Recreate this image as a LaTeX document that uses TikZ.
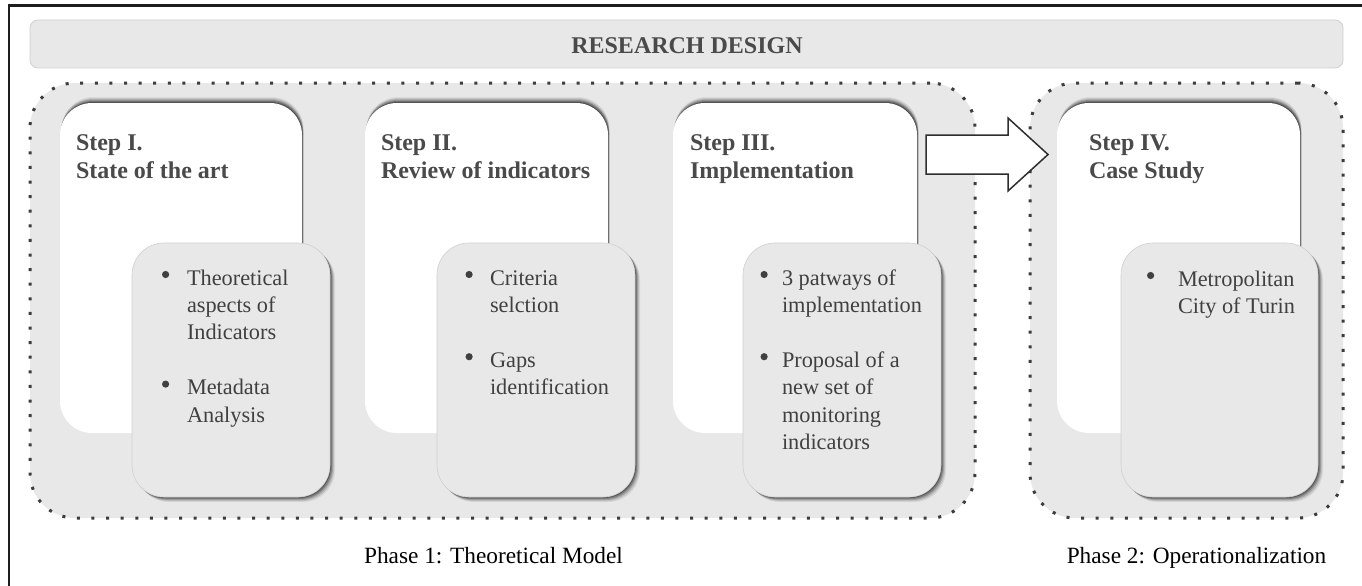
\documentclass[tikz,border=0pt]{standalone}
\usepackage{fontspec}
\setmainfont{Liberation Serif}
\usetikzlibrary{shadows}
\definecolor{regfill}{HTML}{E8E8E8}
\definecolor{boxfill}{HTML}{E8E8E8}
\definecolor{boxline}{HTML}{D0D0D0}
\definecolor{dotcol}{HTML}{3C3C3C}
\definecolor{headcol}{HTML}{4A4A4A}
\definecolor{bulcol}{HTML}{404040}
\definecolor{framecol}{HTML}{1E1E1E}
\definecolor{arrowcol}{HTML}{2E2E2E}
\newcommand\hdfont{\fontsize{24}{28}\selectfont\bfseries}
\newcommand\blfont{\fontsize{22.3}{27.4}\selectfont}
\newcommand\bdot{\tikz[baseline=0pt]{\fill[bulcol] (3.6pt,10.5pt) circle[radius=3.6pt];}}
\newcommand\bitem[2]{\par\noindent\hangindent=#1\hangafter=1\makebox[#1][l]{\bdot}#2}
\newcommand\itemgap{\par\vspace{27.4pt}}
\begin{document}
\begin{tikzpicture}[x=1pt,y=-1pt,
  region/.style={fill=regfill, draw=dotcol, line width=3pt, dash pattern=on 3pt off 11.6pt,
    rounded corners=45pt, inner sep=0pt, outer sep=0pt},
  bar/.style={fill=boxfill, draw=boxline, line width=0.8pt, rounded corners=8pt, inner sep=0pt, outer sep=0pt},
  stepbox/.style={fill=white, rounded corners=32pt, inner sep=0pt, outer sep=0pt,
    minimum height=330pt,
    general shadow={shadow xshift=1.5pt, shadow yshift=6pt, fill=black, opacity=0.06},
    general shadow={shadow xshift=1.5pt, shadow yshift=5pt, fill=black, opacity=0.09},
    general shadow={shadow xshift=1pt, shadow yshift=4pt, fill=black, opacity=0.12},
    general shadow={shadow xshift=1pt, shadow yshift=3pt, fill=black, opacity=0.16},
    general shadow={shadow xshift=1pt, shadow yshift=2pt, fill=black, opacity=0.22},
    general shadow={shadow xshift=0.5pt, shadow yshift=1pt, fill=black, opacity=0.28}},
  bulbox/.style={fill=boxfill, draw=boxline, line width=0.6pt, rounded corners=32pt,
    inner sep=0pt, outer sep=0pt, minimum height=254pt,
    general shadow={shadow xshift=5pt, shadow yshift=-5pt, fill=black, opacity=0.07},
    general shadow={shadow xshift=4pt, shadow yshift=-4pt, fill=black, opacity=0.11},
    general shadow={shadow xshift=3pt, shadow yshift=-3pt, fill=black, opacity=0.16},
    general shadow={shadow xshift=2pt, shadow yshift=-2pt, fill=black, opacity=0.22},
    general shadow={shadow xshift=1pt, shadow yshift=-1pt, fill=black, opacity=0.28}},
  headtext/.style={text=headcol, inner sep=0pt, outer sep=0pt, anchor=base west},
  bultext/.style={text=bulcol, inner sep=0pt, outer sep=0pt, anchor=base west},
  phase/.style={text=black, inner sep=0pt, anchor=base, font=\fontsize{23.3}{27}\selectfont},
  blockarrow/.style={draw=arrowcol, fill=white, line width=1.5pt, line join=miter}
]
\useasboundingbox (0,0) rectangle (1362,586);
\fill[white] (0,0) rectangle (1362,586);
% frame
\draw[framecol, line width=2.2pt] (9,586) -- (9,5.5) -- (1362,5.5);
% top bar
\node[bar, minimum width=1313pt, minimum height=48pt] (bar) at (686.5,44) {};
\node[text=headcol, font=\hdfont, inner sep=0pt, anchor=base] (rd) at (687,53) {RESEARCH DESIGN};
% phase regions
\node[region, minimum width=945pt, minimum height=435pt] (p1) at (502.5,300.5) {};
\node[region, minimum width=313pt, minimum height=435pt] (p2) at (1186.5,300.5) {};
% step boxes
\node[stepbox, minimum width=242pt] (s1) at (181,268) {};
\node[stepbox, minimum width=243pt] (s2) at (486.5,268) {};
\node[stepbox, minimum width=244pt] (s3) at (795,268) {};
\node[stepbox, minimum width=243pt] (s4) at (1178.5,268) {};
% bullet boxes
\node[bulbox, minimum width=198pt] (g1) at (231,370) {};
\node[bulbox, minimum width=198pt] (g2) at (536,370) {};
\node[bulbox, minimum width=198pt] (g3) at (842,370) {};
\node[bulbox, minimum width=197pt] (g4) at (1219.5,370) {};
% headings
\node[headtext] (h1) at (76,150) {\parbox[t]{225pt}{\hdfont\noindent Step I.\\State of the art}};
\node[headtext] (h2) at (381,150) {\parbox[t]{225pt}{\hdfont\noindent Step II.\\Review of indicators}};
\node[headtext] (h3) at (690,150) {\parbox[t]{225pt}{\hdfont\noindent Step III.\\Implementation}};
\node[headtext] (h4) at (1089,150) {\parbox[t]{200pt}{\hdfont\noindent Step IV.\\Case Study}};
% bullet texts
\node[bultext] (b1) at (162,285) {\parbox[t]{175pt}{\blfont\bitem{25pt}{Theoretical\\aspects of\\Indicators}\itemgap\bitem{25pt}{Metadata\\Analysis}}};
\node[bultext] (b2) at (465.5,285) {\parbox[t]{175pt}{\blfont\bitem{24.5pt}{Criteria\\selction}\itemgap\bitem{24.5pt}{Gaps\\identification}}};
\node[bultext] (b3) at (760.5,285) {\parbox[t]{180pt}{\blfont\bitem{21.5pt}{3 patways of\\implementation}\itemgap\bitem{21.5pt}{Proposal of a\\new set of\\monitoring\\indicators}}};
\node[bultext] (b4) at (1147,286) {\parbox[t]{175pt}{\blfont\bitem{31pt}{Metropolitan\\City of Turin}}};
% block arrow between phases
\draw[blockarrow] (926,135) -- (1008,135) -- (1008,118) -- (1048,154.5) -- (1008,191) -- (1008,174) -- (926,174) -- cycle;
% phase labels
\node[phase] (ph1) at (493.5,563) {Phase 1: Theoretical Model};
\node[phase] (ph2) at (1196.5,563) {Phase 2: Operationalization};
\end{tikzpicture}
\end{document}
